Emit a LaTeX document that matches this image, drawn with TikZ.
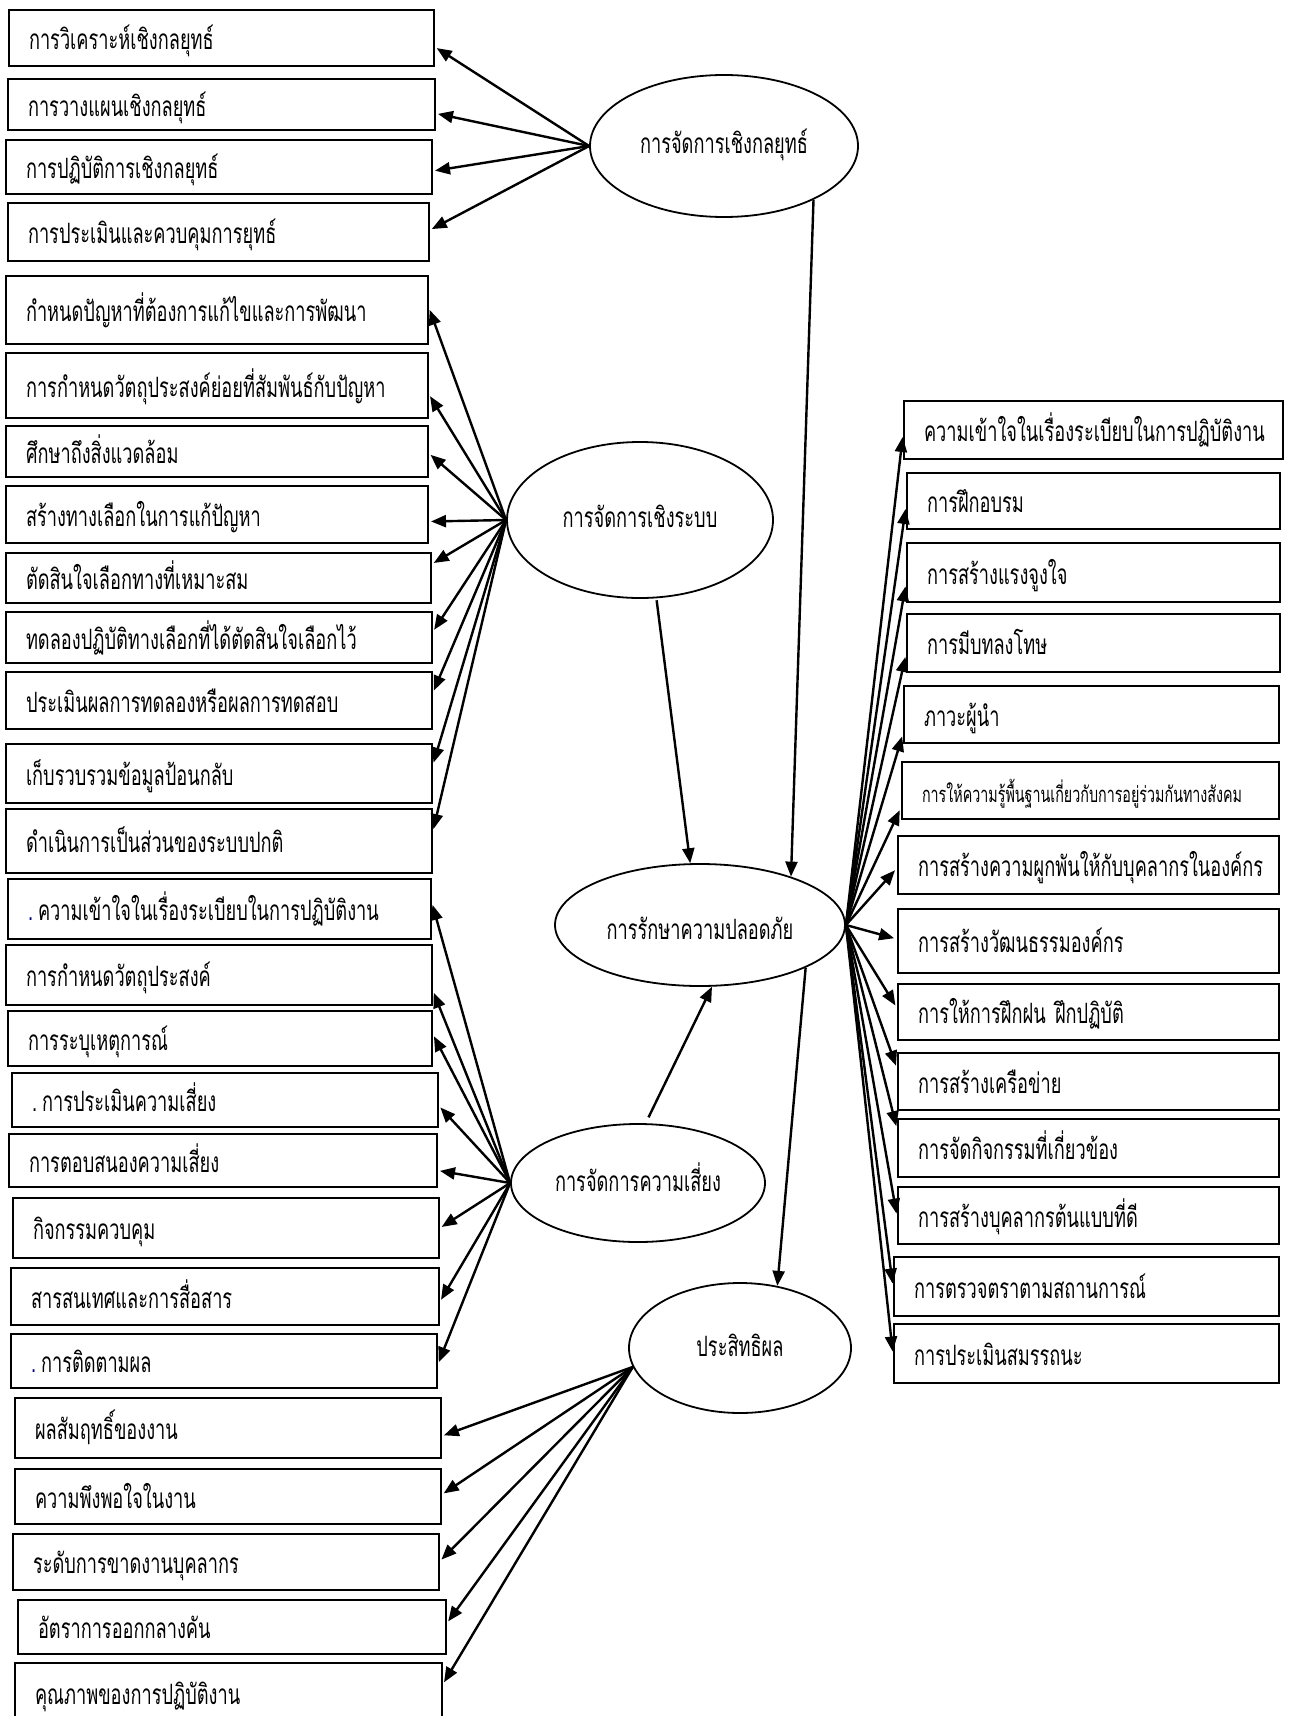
\documentclass[tikz,border=0pt]{standalone}
\usepackage{fontspec}
\newfontfamily\thaifont[Script=Thai,FakeStretch=0.65]{Loma}
\usetikzlibrary{shapes.geometric,arrows.meta}

\begin{document}
\begin{tikzpicture}[x=1pt, y=-1pt,
  item/.style={draw, line width=2pt, inner xsep=20pt, inner ysep=0pt,
    anchor=north west, align=left, text height=1.6ex, text depth=0pt},
  factor/.style={draw, ellipse, line width=1.8pt, inner sep=0pt,
    text height=1.1ex, text depth=0pt},
  arr/.style={line width=2.4pt, -{Triangle[length=15pt,width=12pt]}}]

  \thaifont\fontsize{28}{32}\selectfont

  \useasboundingbox (0,0) rectangle (1291,1716);

  \newcommand\itembox[6]{%
    \pgfmathsetmacro\BW{#4-#2}%
    \pgfmathsetmacro\TW{#4-#2-40}%
    \pgfmathsetmacro\BH{#5-#3}%
    \node[item, minimum width=\BW pt, minimum height=\BH pt,
      text width=\TW pt] (#1) at (#2,#3) {#6};}
  \newcommand\smalltxt{\fontsize{22}{26}\selectfont}
  \newcommand\bdot{{\color{blue!50!black}.}\hspace{5pt}}

  % factors
  \node[factor, minimum width=268pt, minimum height=142pt] (e1) at (724,146) {การจัดการเชิงกลยุทธ์};
  \node[factor, minimum width=266pt, minimum height=156pt] (e2) at (640,520) {การจัดการเชิงระบบ};
  \node[factor, minimum width=290pt, minimum height=122pt] (e4) at (700,925) {\raisebox{-7pt}{การรักษาความปลอดภัย}};
  \node[factor, minimum width=254pt, minimum height=118pt] (e3) at (638,1183) {การจัดการความเสี่ยง};
  \node[factor, minimum width=222pt, minimum height=130pt] (e5) at (740,1348) {ประสิทธิผล};

  % left column
  \foreach \n/\xa/\ya/\xb/\yb/\txt in {
    b1/8/9/433/65/การวิเคราะห์เชิงกลยุทธ์,
    b2/7/78/434/129/การวางแผนเชิงกลยุทธ์,
    b3/5/139/431/193/การปฏิบัติการเชิงกลยุทธ์,
    b4/7/202/428/260/การประเมินและควบคุมการยุทธ์,
    b5/5/275/427/343/กำหนดปัญหาที่ต้องการแก้ไขและการพัฒนา,
    b6/5/352/427/417/การกำหนดวัตถุประสงค์ย่อยที่สัมพันธ์กับปัญหา,
    b7/5/425/427/476/ศึกษาถึงสิ่งแวดล้อม,
    b8/5/485/427/542/สร้างทางเลือกในการแก้ปัญหา,
    b9/5/552/430/602/ตัดสินใจเลือกทางที่เหมาะสม,
    b10/5/611/431/662/ทดลองปฏิบัติทางเลือกที่ได้ตัดสินใจเลือกไว้,
    b11/5/671/431/728/ประเมินผลการทดลองหรือผลการทดสอบ,
    b12/5/743/431/802/เก็บรวบรวมข้อมูลป้อนกลับ,
    b13/5/808/431/872/ดำเนินการเป็นส่วนของระบบปกติ,
    b14/7/878/430/938/\bdot ความเข้าใจในเรื่องระเบียบในการปฏิบัติงาน,
    b15/5/944/431/1004/การกำหนดวัตถุประสงค์,
    b16/7/1010/431/1065/การระบุเหตุการณ์,
    b17/11/1072/437/1126/.\hspace{5pt}การประเมินความเสี่ยง,
    b18/8/1133/436/1186/การตอบสนองความเสี่ยง,
    b19/12/1197/438/1257/กิจกรรมควบคุม,
    b20/10/1267/438/1324/สารสนเทศและการสื่อสาร,
    b21/10/1333/436/1387/\bdot การติดตามผล,
    b22/14/1397/440/1457/ผลสัมฤทธิ์ของงาน,
    b23/14/1468/440/1523/ความพึงพอใจในงาน,
    b24/12/1533/438/1589/ระดับการขาดงานบุคลากร,
    b25/17/1599/445/1653/อัตราการออกกลางคัน,
    b26/14/1662/441/1722/คุณภาพของการปฏิบัติงาน}
    \itembox{\n}{\xa}{\ya}{\xb}{\yb}{\txt};

  % right column
  \foreach \n/\xa/\ya/\xb/\yb/\txt in {
    r1/903/400/1282/458/ความเข้าใจในเรื่องระเบียบในการปฏิบัติงาน,
    r2/906/472/1279/528/การฝึกอบรม,
    r3/906/542/1279/601/การสร้างแรงจูงใจ,
    r4/906/613/1279/671/การมีบทลงโทษ,
    r5/903/685/1278/742/ภาวะผู้นำ,
    r6/901/761/1278/818/{\smalltxt การให้ความรู้พื้นฐานเกี่ยวกับการอยู่ร่วมกันทางสังคม},
    r7/897/835/1278/893/การสร้างความผูกพันให้กับบุคลากรในองค์กร,
    r8/897/908/1278/972/การสร้างวัฒนธรรมองค์กร,
    r9/897/983/1278/1039/การให้การฝึกฝน ฝึกปฏิบัติ,
    r10/897/1052/1278/1109/การสร้างเครือข่าย,
    r11/897/1118/1278/1176/การจัดกิจกรรมที่เกี่ยวข้อง,
    r12/897/1186/1278/1243/การสร้างบุคลากรต้นแบบที่ดี,
    r13/893/1256/1278/1315/การตรวจตราตามสถานการณ์,
    r14/893/1323/1278/1382/การประเมินสมรรถนะ}
    \itembox{\n}{\xa}{\ya}{\xb}{\yb}{\txt};

  % links to the indicators
  \foreach \t/\s in {b1/-9, b2/-9, b3/-4, b4/2}
    \draw[arr, shorten >=2pt] (e1.west) -- ([yshift=\s pt]\t.east);
  \foreach \t/\s in {b5/2, b6/-9, b7/-2, b8/-7, b9/14, b10/6, b11/8, b12/9, b13/10}
    \draw[arr, shorten >=2pt] (e2.west) -- ([yshift=\s pt]\t.east);
  \foreach \t/\s in {b14/6, b15/-16, b16/4, b17/-6, b18/-10, b19/0, b20/-5, b21/-3}
    \draw[arr, shorten >=2pt] (e3.west) -- ([yshift=\s pt]\t.east);
  \foreach \t/\s in {b22/-8, b23/2, b24/1, b25/4, b26/9}
    \draw[arr, shorten >=2pt] (e5.190) -- ([yshift=\s pt]\t.east);
  \foreach \t/\s in {r1/-4, r2/-5, r3/-11, r4/-11, r5/-19, r6/-17, r7/-3,
    r8/2, r9/4, r10/13, r11/19, r12/-1, r13/0, r14/-1}
    \draw[arr, shorten >=3pt] (e4.east) -- ([yshift=\s pt]\t.west);

  % links between the factors
  \draw[arr] (e1.-31) -- (e4.28);
  \draw[arr] ([yshift=-2pt]e2.-78) -- (e4.99);
  \draw[arr] ([yshift=6pt]e3.80) -- (e4.-79);
  \draw[arr] (e4.-22) -- (e5.59);

\end{tikzpicture}
\end{document}
